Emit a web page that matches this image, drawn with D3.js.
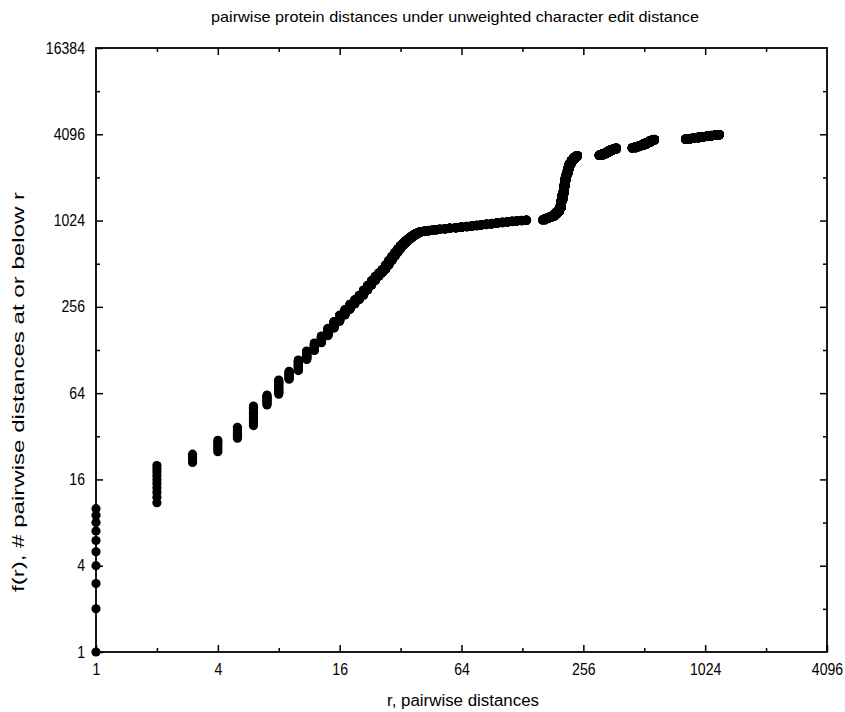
<!DOCTYPE html>
<html><head><meta charset="utf-8">
<script src="https://cdn.jsdelivr.net/npm/d3@7/dist/d3.min.js"></script>
<style>body{margin:0;background:#fff}svg text{font-family:"Liberation Sans Narrow","Liberation Sans",Arial,sans-serif;fill:#000}</style>
</head><body><svg id="c" width="845" height="712"></svg>
<script>
// r values (distinct pairwise distances) and f(r) = # pairs at or below r
const distances = [1,2,3,4,5,6,7,8,9,
  10,11,12,13,14,15,16,17,18,19,20,21,22,23,24,25,26,27,28,29,30,31,32,33,34,35,36,37,38,39,40,
  42,44,46,48,50,53,56,60,64,68,72,76,80,85,90,96,102,108,114,120,127,134,
  161,166,172,178,184,190,195,199,202,205,208,211,214,217,220,224,228,232,236,239,
  307,318,330,340,350,360,372,
  447,465,485,505,525,545,560,574,
  820,860,900,950,1000,1050,1100,1150,1200];
const cumulative = [10,20,24,30,37,52,62,79,91,
  109,126,143,160,181,202,224,245,267,287,308,335,362,390,418,442,467,502,539,576,613,650,686,715,743,768,792,812,831,845,857,
  866,874,880,887,893,900,908,916,925,933,941,950,958,968,978,988,998,1006,1014,1020,1026,1032,
  1035,1060,1080,1098,1140,1185,1260,1410,1580,1780,1990,2150,2330,2480,2580,2690,2770,2840,2885,2913,
  2930,2990,3060,3130,3190,3230,3280,
  3300,3360,3420,3500,3590,3680,3730,3770,
  3790,3830,3870,3910,3950,3990,4020,4050,4080];

const xTickValues = [1,4,16,64,256,1024,4096];
const xMinorValues = [2,8,32,128,512,2048];
const yTickValues = [1,4,16,64,256,1024,4096,16384];
const yMinorValues = [2,8,32,128,512,2048,8192];

const titleText = "pairwise protein distances under unweighted character edit distance";
const xLabelText = "r, pairwise distances";
const yLabelText = "f(r), # pairwise distances at or below r";

const L = 96, R = 827, T = 48, B = 652;
const svg = d3.select("#c");
const x = d3.scaleLog().base(2).domain([1,4096]).range([L,R]);
const y = d3.scaleLog().base(2).domain([1,16384]).range([B,T]);

// one point per pair: (distance, rank)
const pts = [];
let prev = 0;
distances.forEach((d,i)=>{
  for(let k=prev+1;k<=cumulative[i];k++) pts.push([d,k]);
  prev = cumulative[i];
});

const fmt = d => String(d);
function styleAxis(g){ g.select(".domain").remove(); g.selectAll("line").attr("stroke","#000").attr("stroke-width",1.5); g.selectAll("text").attr("font-size",16).attr("fill","#000").attr("font-family",null); }

svg.append("g").attr("transform",`translate(0,${B})`).call(d3.axisBottom(x).tickValues(xTickValues).tickFormat(fmt).tickSize(-7).tickPadding(12)).call(styleAxis);
svg.append("g").attr("transform",`translate(0,${B})`).call(d3.axisBottom(x).tickValues(xMinorValues).tickFormat("").tickSize(-4)).call(styleAxis);
svg.append("g").attr("transform",`translate(0,${T})`).call(d3.axisTop(x).tickValues(xTickValues.slice(1,-1)).tickFormat("").tickSize(-7)).call(styleAxis);
svg.append("g").attr("transform",`translate(0,${T})`).call(d3.axisTop(x).tickValues(xMinorValues).tickFormat("").tickSize(-4)).call(styleAxis);
svg.append("g").attr("transform",`translate(${L},0)`).call(d3.axisLeft(y).tickValues(yTickValues).tickFormat(fmt).tickSize(-7).tickPadding(11)).call(styleAxis);
svg.append("g").attr("transform",`translate(${L},0)`).call(d3.axisLeft(y).tickValues(yMinorValues).tickFormat("").tickSize(-4)).call(styleAxis);
svg.append("g").attr("transform",`translate(${R},0)`).call(d3.axisRight(y).tickValues(yTickValues.slice(1,-1)).tickFormat("").tickSize(-7)).call(styleAxis);
svg.append("g").attr("transform",`translate(${R},0)`).call(d3.axisRight(y).tickValues(yMinorValues).tickFormat("").tickSize(-4)).call(styleAxis);

svg.append("rect").attr("x",L).attr("y",T).attr("width",R-L).attr("height",B-T)
  .attr("fill","none").attr("stroke","#000").attr("stroke-width",1.8);

svg.append("g").selectAll("circle").data(pts).join("circle")
  .attr("cx",d=>x(d[0])).attr("cy",d=>y(d[1])).attr("r",4.6).attr("fill","#000");

svg.append("text").attr("x",455).attr("y",22).attr("text-anchor","middle").attr("font-size",15)
  .attr("textLength",488).attr("lengthAdjust","spacingAndGlyphs").text(titleText);
svg.append("text").attr("x",463).attr("y",706).attr("text-anchor","middle").attr("font-size",16)
  .attr("textLength",152).attr("lengthAdjust","spacingAndGlyphs").text(xLabelText);
svg.append("text").attr("transform","translate(24,392) rotate(-90)").attr("text-anchor","middle").attr("font-size",16)
  .attr("textLength",400).attr("lengthAdjust","spacingAndGlyphs").text(yLabelText);

// condense tick labels horizontally
svg.selectAll(".tick text").each(function(){
  const w = this.getComputedTextLength();
  if (w>0) d3.select(this).attr("textLength", w*0.88).attr("lengthAdjust","spacingAndGlyphs");
});
</script></body></html>
